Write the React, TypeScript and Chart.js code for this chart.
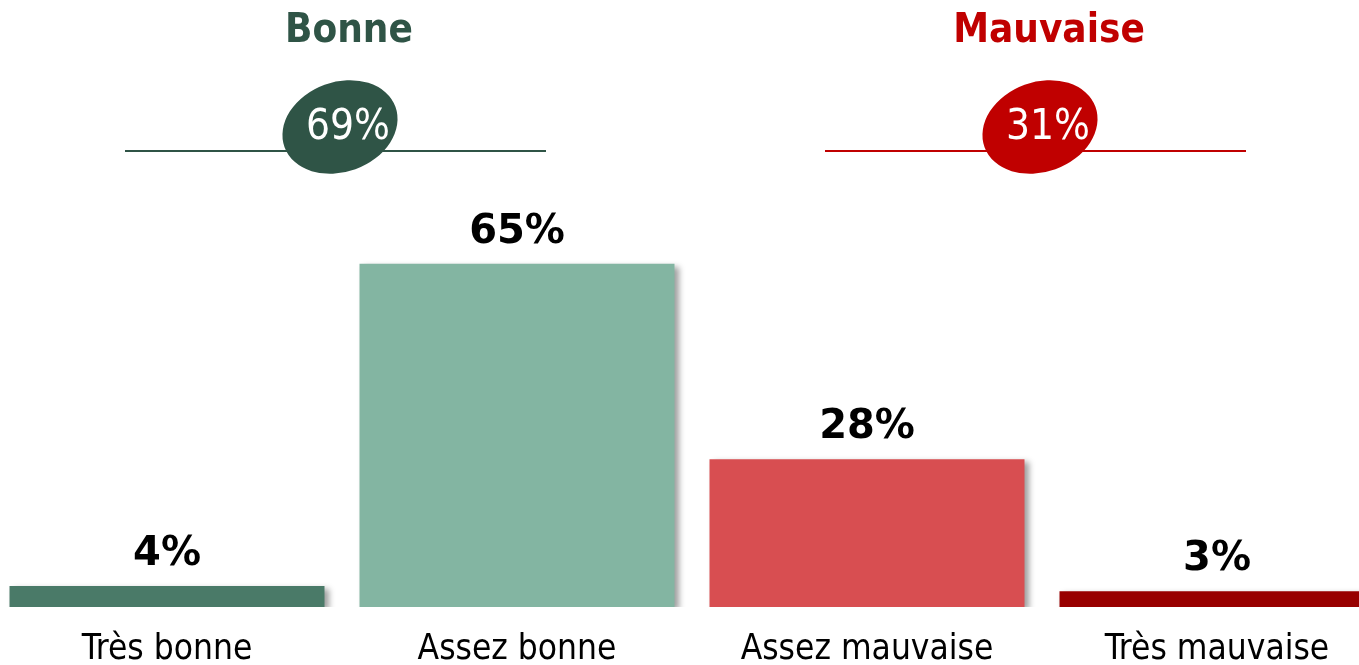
import React, { useEffect, useRef } from 'react';
import { Chart, registerables } from 'chart.js';

Chart.register(...registerables);

const categories = ['Très bonne', 'Assez bonne', 'Assez mauvaise', 'Très mauvaise'];
const values = [4, 65, 28, 3];
const barColors = ['#4A7A68', '#83B5A2', '#D84E51', '#980000'];
const groupNames = ['Bonne', 'Mauvaise'];
const groupTotals = [69, 31];
const groupMembers = [[0, 1], [2, 3]];
const groupColors = ['#2F5446', '#C00000'];

const COND = "'DejaVu Sans Condensed', 'DejaVu Sans', sans-serif";
const SANS = "'DejaVu Sans', sans-serif";

const shadowPlugin = {
  id: 'barShadow',
  beforeDatasetsDraw(chart: any) {
    const ctx = chart.ctx;
    ctx.save();
    ctx.shadowColor = 'rgba(0,0,0,0.38)';
    ctx.shadowBlur = 6;
    ctx.shadowOffsetX = 4;
    ctx.shadowOffsetY = 3;
  },
  afterDatasetsDraw(chart: any) {
    chart.ctx.restore();
  },
};

const annotPlugin = {
  id: 'annot',
  afterDraw(chart: any) {
    const ctx = chart.ctx;
    const meta = chart.getDatasetMeta(0);
    const xs = chart.scales.x;
    ctx.save();
    // value labels
    ctx.font = `bold 40px ${SANS}`;
    ctx.fillStyle = '#000000';
    ctx.textAlign = 'center';
    ctx.textBaseline = 'alphabetic';
    meta.data.forEach((bar: any, i: number) => {
      ctx.fillText(`${values[i]}%`, bar.x, bar.y - 21);
    });
    // group headers
    groupNames.forEach((name, g) => {
      const [a, b] = groupMembers[g];
      const cx = (xs.getPixelForValue(a) + xs.getPixelForValue(b)) / 2;
      const col = groupColors[g];
      // title
      ctx.font = `bold 40px ${COND}`;
      ctx.fillStyle = col;
      ctx.textAlign = 'center';
      ctx.textBaseline = 'alphabetic';
      ctx.fillText(name, cx + 7, 42);
      // line
      ctx.strokeStyle = col;
      ctx.lineWidth = 2;
      ctx.beginPath();
      ctx.moveTo(cx - 217, 151);
      ctx.lineTo(cx + 204, 151);
      ctx.stroke();
      // ellipse
      ctx.fillStyle = col;
      ctx.beginPath();
      ctx.ellipse(cx - 2, 127, 59, 45, -20 * Math.PI / 180, 0, Math.PI * 2);
      ctx.fill();
      // total
      ctx.font = `42px ${COND}`;
      ctx.fillStyle = '#FFFFFF';
      ctx.fillText(`${groupTotals[g]}%`, cx + 6, 139);
    });
    ctx.restore();
  },
};

export default function App() {
  const ref = useRef<HTMLCanvasElement | null>(null);
  useEffect(() => {
    if (!ref.current) return;
    const chart = new Chart(ref.current, {
      type: 'bar',
      data: {
        labels: categories,
        datasets: [
          {
            data: values,
            backgroundColor: barColors,
            borderWidth: 0,
            barPercentage: 0.9,
            categoryPercentage: 1.0,
          },
        ],
      },
      options: {
        responsive: false,
        animation: false,
        devicePixelRatio: 1,
        layout: { padding: { top: 79, bottom: 0, left: 0, right: 0 } },
        plugins: { legend: { display: false }, tooltip: { enabled: false } },
        scales: {
          x: {
            grid: { display: false, drawTicks: false },
            border: { display: false },
            afterFit(scale: any) {
              scale.height = 58;
            },
            ticks: {
              color: '#000000',
              padding: 22,
              font: { family: COND, size: 35 },
              maxRotation: 0,
              autoSkip: false,
            },
          },
          y: {
            display: false,
            min: 0,
            max: 100,
          },
        },
      },
      plugins: [shadowPlugin, annotPlugin],
    });
    return () => chart.destroy();
  }, []);
  return (
    <div
      style={{
        position: 'fixed',
        left: 0,
        top: 0,
        width: 1359,
        height: 665,
        overflow: 'hidden',
        background: '#ffffff',
      }}
    >
      <canvas
        ref={ref}
        width={1400}
        height={665}
        style={{ position: 'absolute', left: -8, top: 0, width: 1400, height: 665 }}
      />
    </div>
  );
}
